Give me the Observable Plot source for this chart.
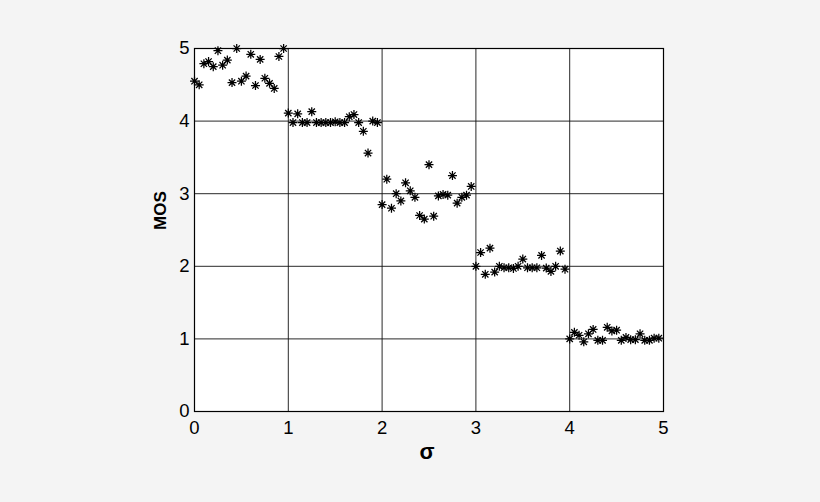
<!DOCTYPE html>
<html>
<head>
<meta charset="utf-8">
<script src="https://cdn.jsdelivr.net/npm/d3@7"></script>
<script src="https://cdn.jsdelivr.net/npm/@observablehq/plot@0.6"></script>
<style>
  html, body { margin: 0; padding: 0; background: #f4f4f4; }
</style>
</head>
<body>
<div id="chart"></div>
<script>
const sigma = [
  0.00, 0.05, 0.10, 0.15, 0.20, 0.25, 0.30, 0.35, 0.40, 0.45,
  0.50, 0.55, 0.60, 0.65, 0.70, 0.75, 0.80, 0.85, 0.90, 0.95,
  1.00, 1.05, 1.10, 1.15, 1.20, 1.25, 1.30, 1.35, 1.40, 1.45,
  1.50, 1.55, 1.60, 1.65, 1.70, 1.75, 1.80, 1.85, 1.90, 1.95,
  2.00, 2.05, 2.10, 2.15, 2.20, 2.25, 2.30, 2.35, 2.40, 2.45,
  2.50, 2.55, 2.60, 2.65, 2.70, 2.75, 2.80, 2.85, 2.90, 2.95,
  3.00, 3.05, 3.10, 3.15, 3.20, 3.25, 3.30, 3.35, 3.40, 3.45,
  3.50, 3.55, 3.60, 3.65, 3.70, 3.75, 3.80, 3.85, 3.90, 3.95,
  4.00, 4.05, 4.10, 4.15, 4.20, 4.25, 4.30, 4.35, 4.40, 4.45,
  4.50, 4.55, 4.60, 4.65, 4.70, 4.75, 4.80, 4.85, 4.90, 4.95
];
const mos = [
  4.55, 4.50, 4.79, 4.82, 4.75, 4.97, 4.77, 4.84, 4.53, 5.00,
  4.55, 4.62, 4.92, 4.49, 4.85, 4.59, 4.52, 4.45, 4.89, 5.00,
  4.11, 3.98, 4.10, 3.98, 3.98, 4.13, 3.98, 3.98, 3.98, 3.98,
  3.99, 3.98, 3.98, 4.06, 4.09, 3.98, 3.86, 3.56, 4.00, 3.98,
  2.85, 3.20, 2.80, 3.00, 2.90, 3.15, 3.04, 2.95, 2.70, 2.65,
  3.40, 2.69, 2.97, 2.99, 2.98, 3.25, 2.87, 2.95, 2.98, 3.10,
  2.00, 2.19, 1.89, 2.25, 1.92, 2.00, 1.98, 1.98, 1.97, 2.00,
  2.10, 1.98, 1.98, 1.98, 2.15, 1.975, 1.93, 2.00, 2.21, 1.96,
  1.00, 1.09, 1.05, 0.96, 1.07, 1.13, 0.98, 0.98, 1.16, 1.11,
  1.12, 0.98, 1.02, 0.99, 0.99, 1.07, 0.98, 0.98, 1.01, 1.01
];
const xTicks = [0, 1, 2, 3, 4, 5];
const yTicks = [0, 1, 2, 3, 4, 5];
const gridX = [1, 2, 3, 4];
const gridY = [1, 2, 3, 4];
const xLabel = "σ";
const yLabel = "MOS";

const data = sigma.map((s, i) => ({sigma: s, mos: mos[i]}));

// MATLAB-style '*' marker: plus + cross
const starSymbol = {
  draw(ctx, size) {
    const r = Math.sqrt(size / Math.PI);
    const d = r * 0.7;
    ctx.moveTo(-r, 0); ctx.lineTo(r, 0);
    ctx.moveTo(0, -r); ctx.lineTo(0, r);
    ctx.moveTo(-d, -d); ctx.lineTo(d, d);
    ctx.moveTo(-d, d); ctx.lineTo(d, -d);
  }
};

const font = "'Liberation Sans', Arial, sans-serif";

const chart = Plot.plot({
  width: 820,
  height: 502,
  marginLeft: 194,
  marginRight: 157,
  marginTop: 48,
  marginBottom: 91,
  style: {background: "#f4f4f4", fontFamily: font, color: "black"},
  x: {domain: [0, 5], axis: null},
  y: {domain: [0, 5], axis: null},
  marks: [
    Plot.frame({fill: "white", stroke: "none"}),
    Plot.ruleX(gridX, {stroke: "#111", strokeWidth: 0.9}),
    Plot.ruleY(gridY, {stroke: "#111", strokeWidth: 0.9}),
    Plot.frame({stroke: "black", strokeWidth: 1.2}),
    Plot.text(xTicks, {x: d => d, frameAnchor: "bottom", lineAnchor: "top", dy: 9, text: d => String(d), fontSize: 18.5, fill: "black"}),
    Plot.text(yTicks, {y: d => d, frameAnchor: "left", textAnchor: "end", dx: -5, text: d => String(d), fontSize: 18.5, fill: "black"}),
    Plot.dot(data, {x: "sigma", y: "mos", symbol: starSymbol, r: 4.5, stroke: "black", strokeWidth: 1.25, fill: "none"}),
    Plot.text([yLabel], {frameAnchor: "left", dx: -34, rotate: -90, fontWeight: "bold", fontSize: 17, fill: "black"}),
    Plot.text([xLabel], {frameAnchor: "bottom", dy: 47, dx: -2, fontWeight: "bold", fontSize: 22, fill: "black"})
  ]
});
document.getElementById("chart").appendChild(chart);
</script>
</body>
</html>
